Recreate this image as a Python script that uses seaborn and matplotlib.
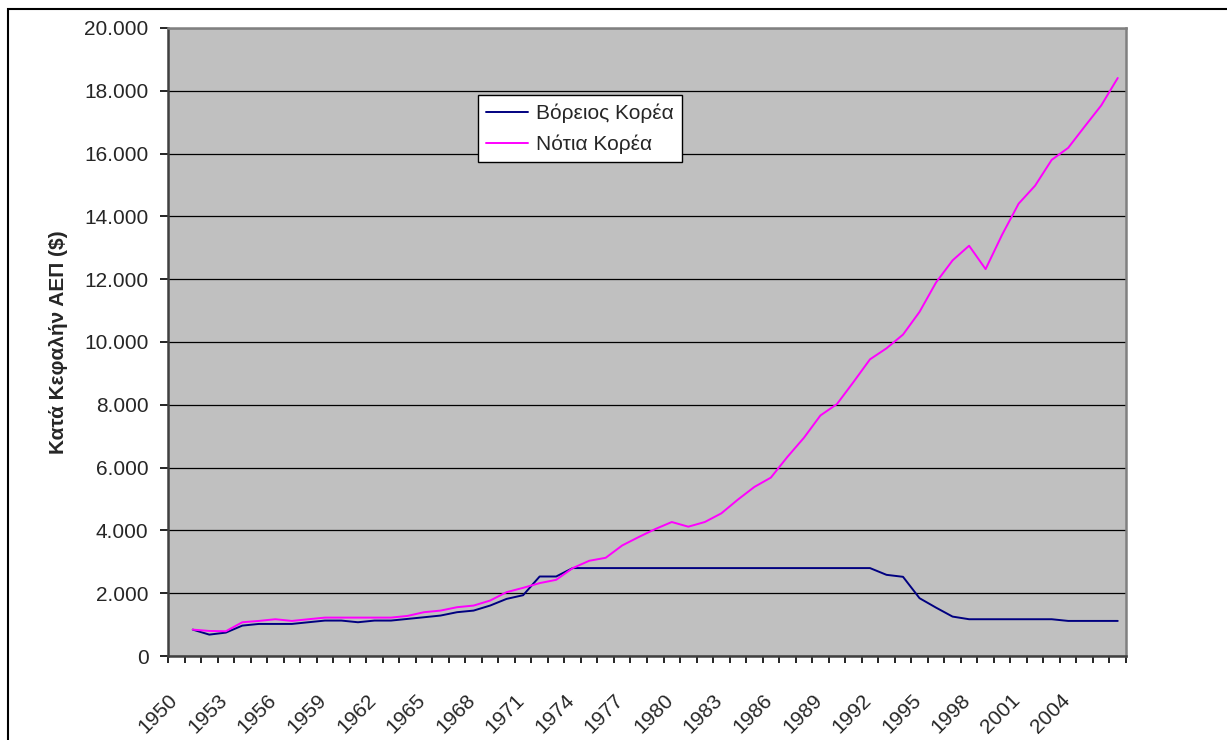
import numpy as np
import pandas as pd
import seaborn as sns
from matplotlib import pyplot as plt
from matplotlib.patches import Rectangle
from matplotlib.ticker import FuncFormatter, FixedLocator
from matplotlib.transforms import ScaledTranslation

years = list(range(1950, 2007))

north_korea = [840, 681, 745, 968, 1021, 1021, 1021, 1075, 1128, 1128,
               1075, 1128, 1128, 1181, 1234, 1288, 1395, 1446, 1606, 1819,
               1936, 2532, 2532, 2800, 2800, 2800, 2800, 2800, 2800, 2800,
               2800, 2800, 2800, 2800, 2800, 2800, 2800, 2800, 2800, 2800,
               2800, 2800, 2585, 2522, 1841, 1540, 1255, 1171, 1171, 1171,
               1171, 1171, 1171, 1117, 1117, 1117, 1117]

south_korea = [840, 798, 788, 1075, 1117, 1171, 1117, 1171, 1223, 1223,
               1223, 1223, 1223, 1277, 1395, 1446, 1554, 1606, 1765, 2033,
               2171, 2321, 2426, 2799, 3032, 3128, 3521, 3789, 4043, 4267,
               4118, 4267, 4543, 4980, 5384, 5682, 6341, 6949, 7661, 8023,
               8725, 9448, 9799, 10236, 10960, 11896, 12599, 13066, 12321, 13417,
               14406, 14981, 15800, 16183, 16864, 17534, 18408]

series_names = ["Βόρειος Κορέα", "Νότια Κορέα"]
tick_labels = [str(y) for y in range(1950, 2005, 3)]

df = pd.DataFrame({
    "year": years * 2,
    "gdp": north_korea + south_korea,
    "country": [series_names[0]] * len(years) + [series_names[1]] * len(years),
})

sns.set_style("white")
plt.rcParams["font.family"] = ["Liberation Sans", "DejaVu Sans"]

fig = plt.figure(figsize=(12.27, 7.4), dpi=100)
ax = fig.add_axes([168 / 1227, 84 / 740, 958 / 1227, 628 / 740])

sns.lineplot(data=df, x="year", y="gdp", hue="country",
             palette={series_names[0]: "#000080", series_names[1]: "#FF00FF"},
             linewidth=1.4, ax=ax)

ax.set_facecolor("#C0C0C0")
ax.set_ylim(0, 20000)
ax.set_yticks(np.arange(0, 20001, 2000))
ax.yaxis.set_major_formatter(FuncFormatter(lambda v, p: f"{int(v):,}".replace(",", ".")))
ax.grid(axis="y", color="black", linewidth=0.9)
ax.set_axisbelow(True)

# category axis: tick marks between years, labels every third tick
ax.set_xlim(1948.5, 2006.5)
boundaries = np.arange(1948.5, 2007, 1.0)
ax.xaxis.set_major_locator(FixedLocator(boundaries))
labels = [""] * len(boundaries)
for i, lab in enumerate(tick_labels):
    labels[3 * i] = lab
ax.set_xticklabels(labels, rotation=45, ha="right", rotation_mode="anchor", fontsize=15)
shift = ScaledTranslation(-0.06, 0, fig.dpi_scale_trans)
for t in ax.get_xticklabels():
    t.set_transform(t.get_transform() + shift)
ax.tick_params(axis="x", direction="out", length=5, width=1.2, color="black", pad=20, bottom=True)
ax.tick_params(axis="y", direction="out", length=6, width=1.2, color="black", pad=8, left=True, labelsize=15)

ax.set_xlabel("")
ax.set_ylabel("Κατά Κεφαλήν ΑΕΠ ($)", fontsize=15, fontweight="bold", labelpad=12)

for side in ["left", "bottom"]:
    ax.spines[side].set_color("#404040")
    ax.spines[side].set_linewidth(1.8)
for side in ["top", "right"]:
    ax.spines[side].set_color("#808080")
    ax.spines[side].set_linewidth(1.8)

leg = ax.legend(loc="upper left", bbox_to_anchor=(0.3236, 0.893), borderaxespad=0,
                fontsize=15, frameon=True, fancybox=False, framealpha=1, edgecolor="black",
                borderpad=0.4, labelspacing=0.55, handlelength=2.0, handletextpad=0.4)
leg.get_frame().set_linewidth(1.0)
leg.get_frame().set_facecolor("white")

fig.add_artist(Rectangle((8 / 1227, -0.1), 1.2, 0.1 + (1 - 9 / 740),
                         transform=fig.transFigure, fill=False,
                         edgecolor="black", linewidth=1.5))

fig.savefig("out.png", dpi=100, facecolor="white")
